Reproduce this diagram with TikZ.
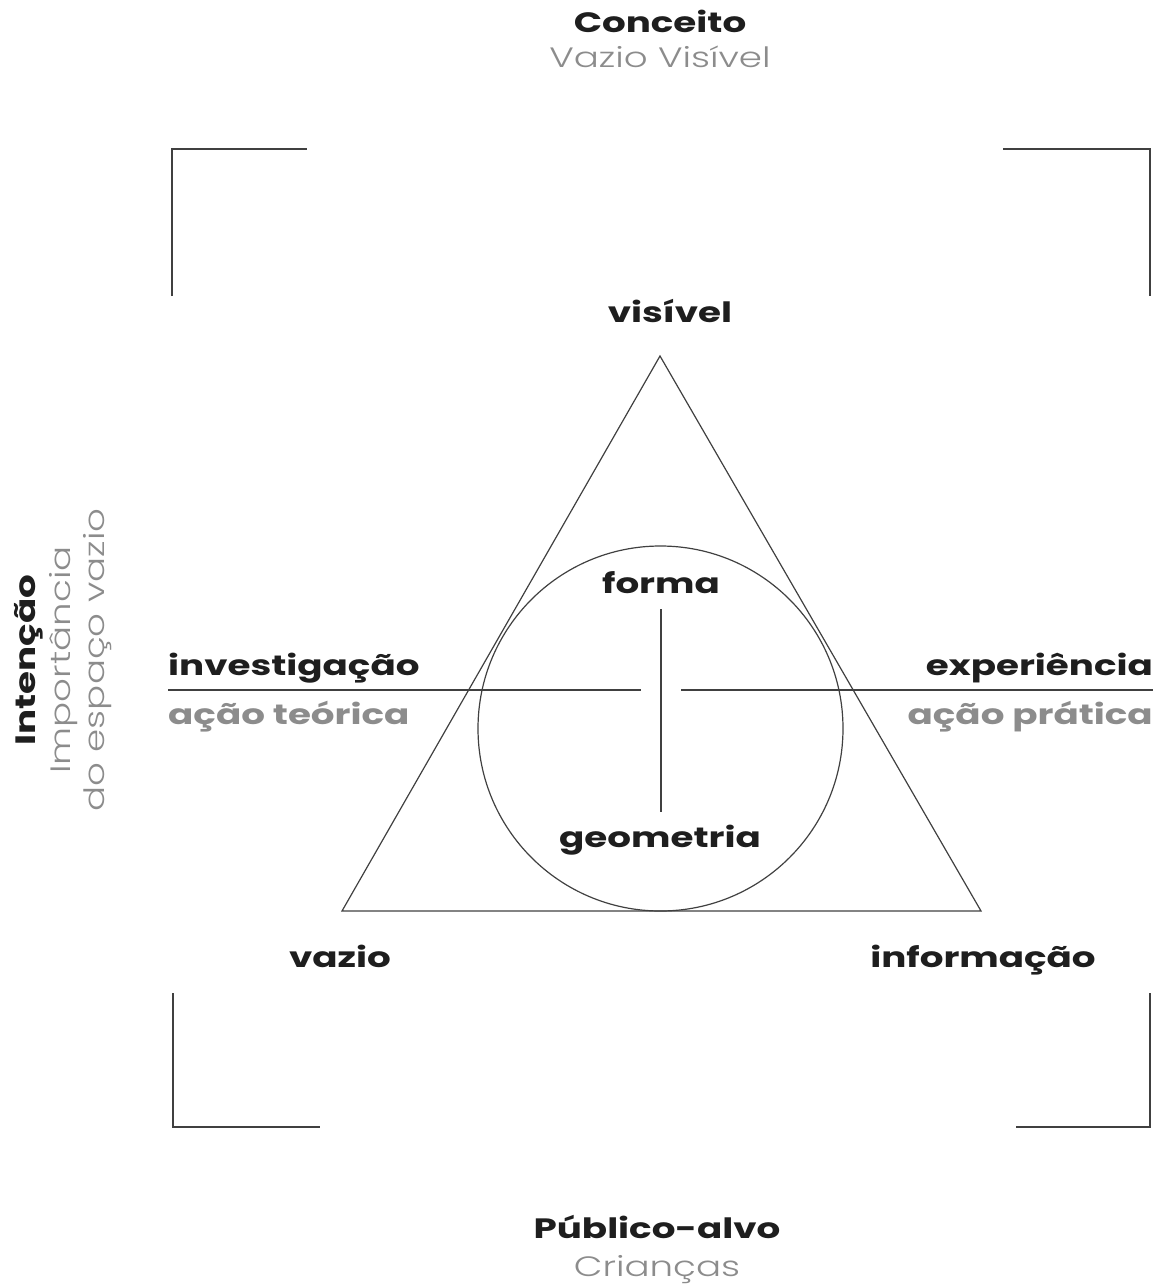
\documentclass[tikz,border=0pt]{standalone}
\usepackage{fontspec}
\setmainfont{Poppins}[FakeStretch=1.33]
\IfFontExistsTF{Poppins Light}
  {\newfontfamily\lightfont{Poppins Light}[FakeStretch=1.33]}
  {\newfontfamily\lightfont{Poppins}[FakeStretch=1.33]}
\usetikzlibrary{positioning}
\definecolor{ink}{HTML}{1E1E1E}
\definecolor{mid}{HTML}{8C8C8C}

\begin{document}
\begin{tikzpicture}[x=1pt,y=-1pt,
  word/.style={font=\fontsize{28}{30}\selectfont\bfseries,text=ink,inner sep=0pt,anchor=base},
  grayword/.style={word,text=mid},
  sub/.style={font=\fontsize{28}{30}\selectfont\lightfont,text=mid,inner sep=0pt,anchor=base},
  thin/.style={line width=1.2pt,draw=ink!85}]
  \useasboundingbox (0,0) rectangle (1158,1284);

  % titles
  \node[word] (concept) at (660,33) {Conceito};
  \node[sub]  (conceptsub) at (660,68) {Vazio Visível};
  \node[word] (public) at (657,1238) {Público-alvo};
  \node[sub]  (publicsub) at (657,1276) {Crianças};
  \node[word,rotate=90] (intent) at (35,660) {Intenção};
  \node[sub,rotate=90] (intentsub1) at (70,660) {Importância};
  \node[sub,rotate=90] (intentsub2) at (104,660) {do espaço vazio};

  % corner brackets
  \coordinate (tl) at (172,149);
  \coordinate (tr) at (1150,149);
  \coordinate (bl) at (173,1127);
  \coordinate (br) at (1150,1127);
  \draw[thin] (tl) ++(0,147) -- (tl) -- ++(135,0);
  \draw[thin] (tr) ++(-147,0) -- (tr) -- ++(0,147);
  \draw[thin] (bl) ++(0,-134) -- (bl) -- ++(147,0);
  \draw[thin] (br) ++(0,-134) -- (br) -- ++(-134,0);

  % triangle and circle
  \coordinate (apex) at (660,356);
  \coordinate (left) at (342,911);
  \coordinate (right) at (981,911);
  \draw[thin] (apex) -- (left) -- (right) -- cycle;
  \node[thin,circle,minimum size=365pt,inner sep=0pt] (ring) at (660.5,728.5) {};

  % axes
  \coordinate (wl) at (168,690);
  \coordinate (wlend) at (641,690);
  \coordinate (el) at (681,690);
  \coordinate (elend) at (1153,690);
  \coordinate (nt) at (661,609);
  \coordinate (st) at (661,812);
  \draw[thin] (wl) -- (wlend);
  \draw[thin] (el) -- (elend);
  \draw[thin] (nt) -- (st);

  % words
  \node[word] (visible) at (670,322) {visível};
  \node[word] (form) at (661,593) {forma};
  \node[word] (geo) at (660,847) {geometria};
  \node[word,anchor=base west] (invest) at (168,675) {investigação};
  \node[grayword,anchor=base west] (theory) at (168,724) {ação teórica};
  \node[word,anchor=base east] (exper) at (1153,675) {experiência};
  \node[grayword,anchor=base east] (practice) at (1153,724) {ação prática};
  \node[word] (void) at (340,967) {vazio};
  \node[word] (info) at (983,967) {informação};
\end{tikzpicture}
\end{document}
